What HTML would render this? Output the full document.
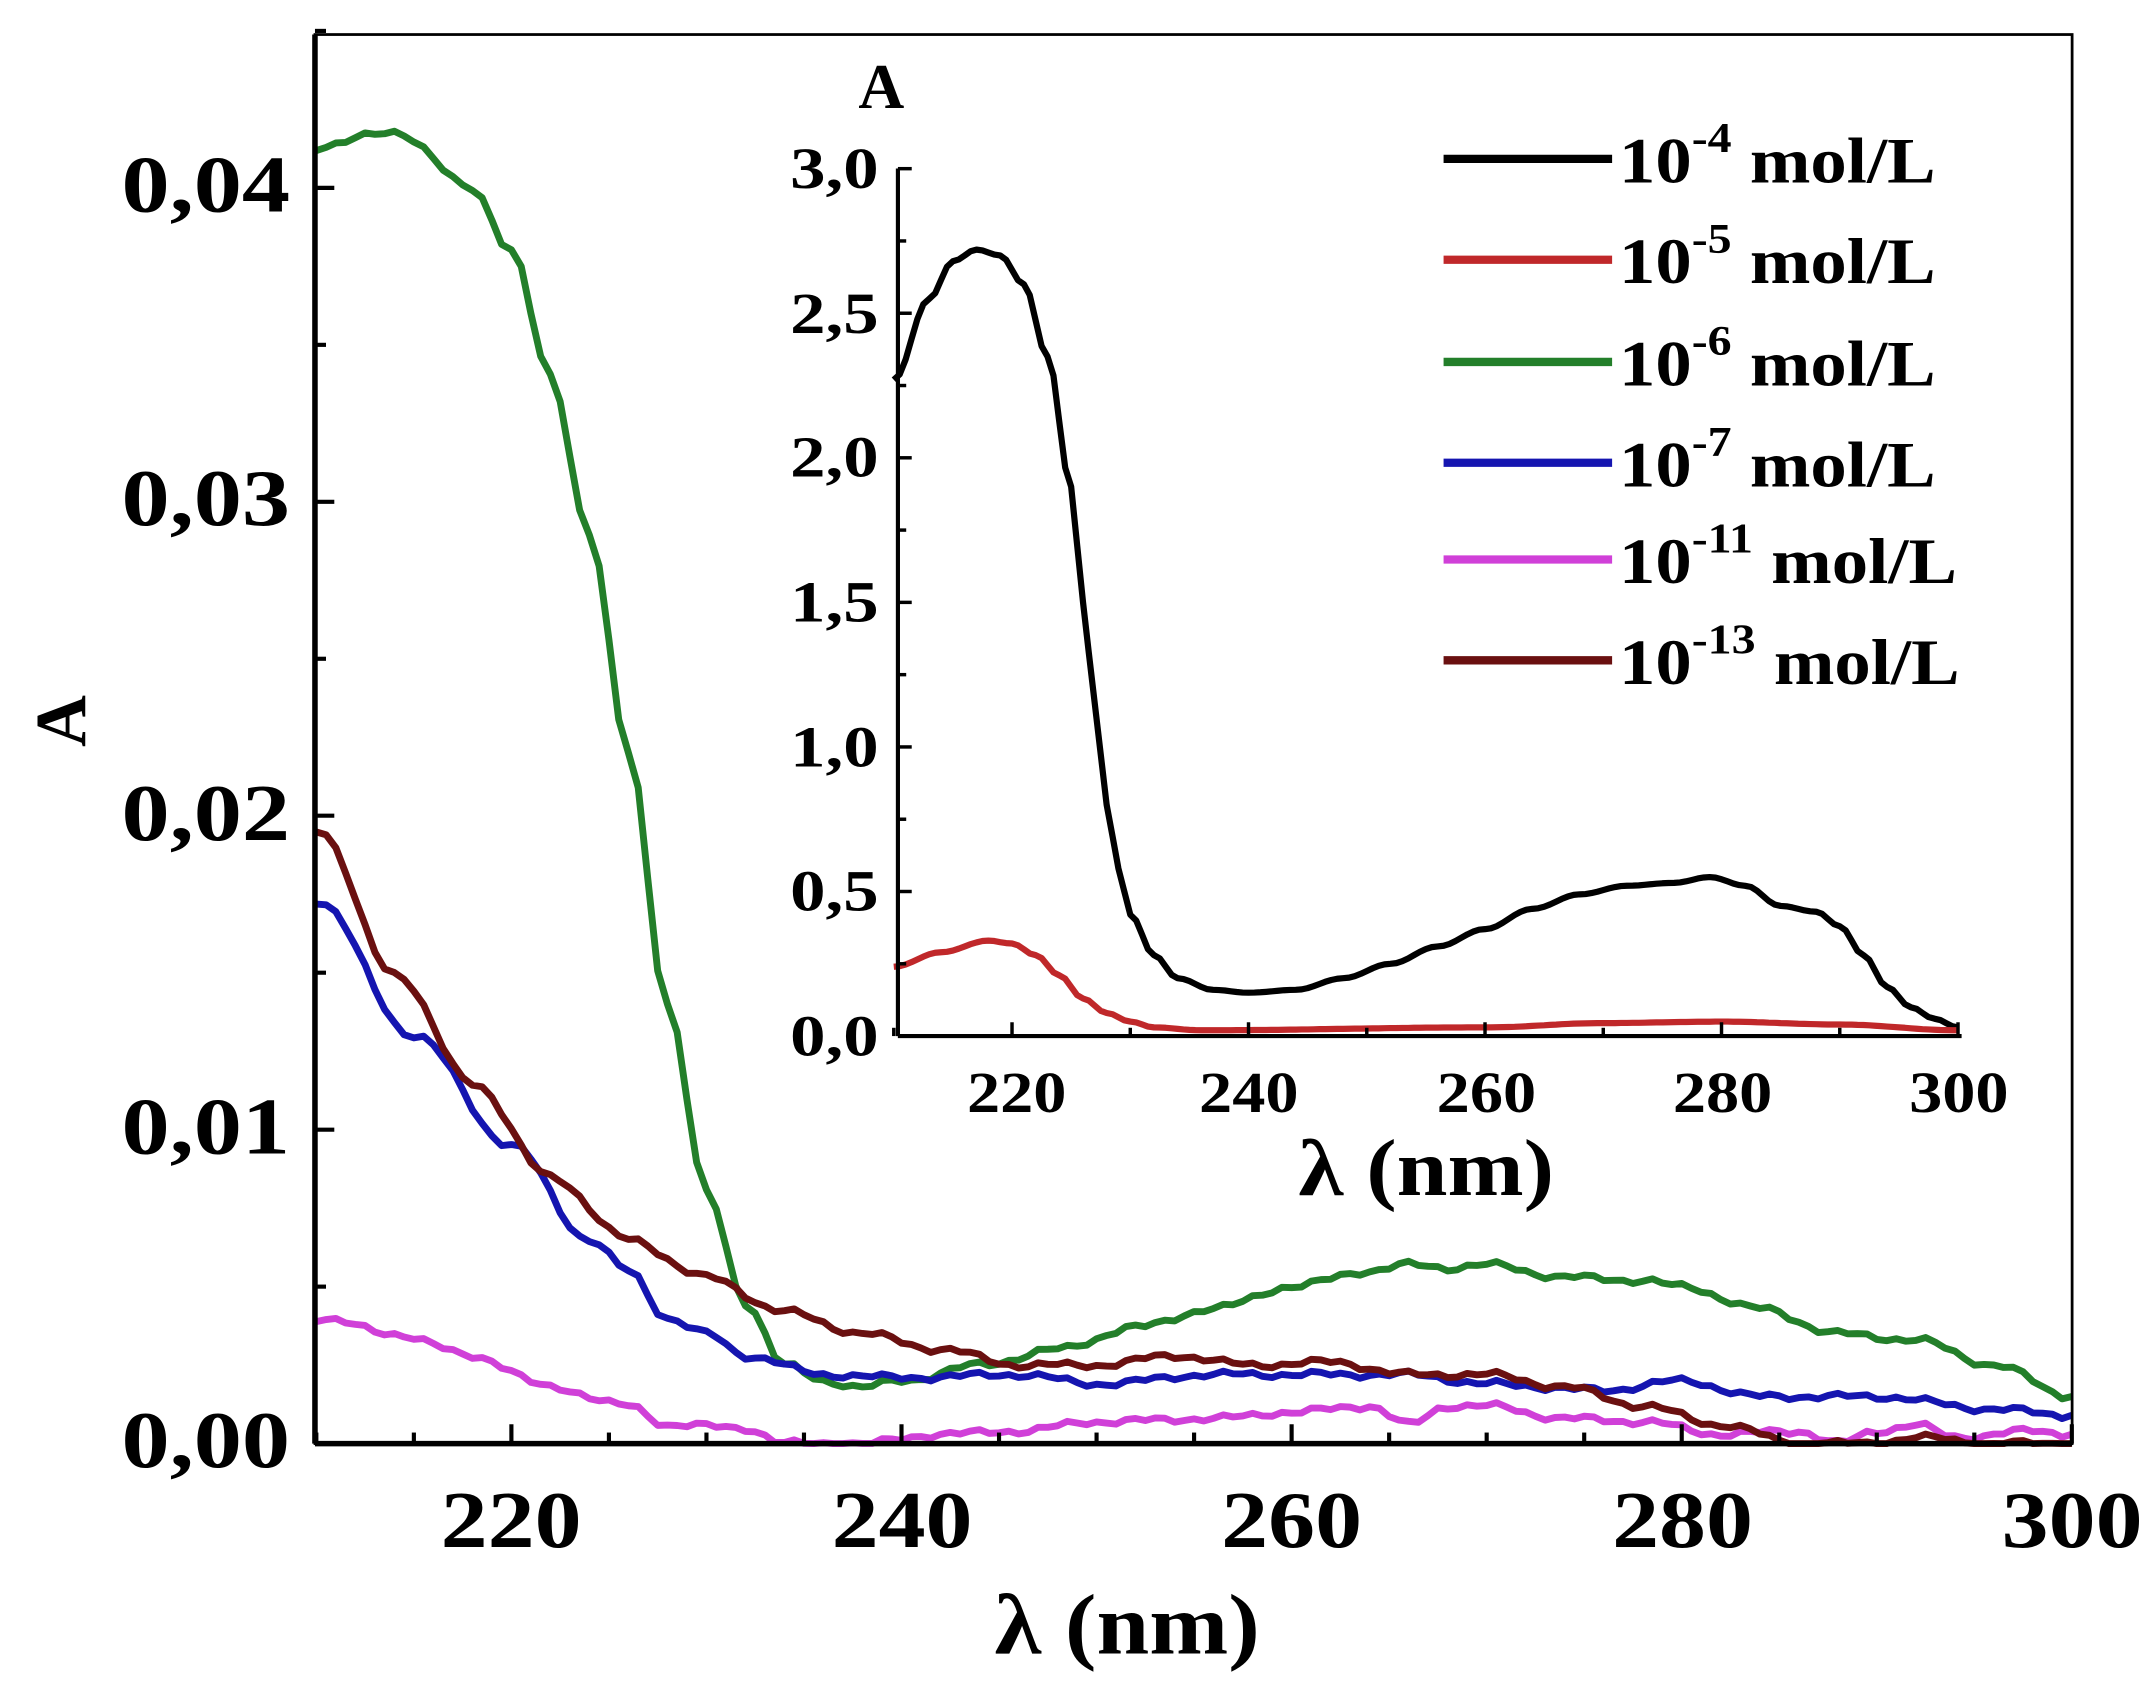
<!DOCTYPE html>
<html><head><meta charset="utf-8">
<style>
html,body{margin:0;padding:0;background:#fff;}
svg{display:block;}
text{font-family:"Liberation Serif",serif;font-weight:bold;fill:#000;}
</style></head>
<body>
<svg id="s" width="2155" height="1683" viewBox="0 0 1560 1218.3" preserveAspectRatio="none" xmlns="http://www.w3.org/2000/svg">
<rect width="1560" height="1219" fill="#fff"/>
<g id="main"></g>
<rect x="228" y="25" width="1272" height="1020" fill="none" stroke="#000" stroke-width="2"/>
<line x1="228" y1="25" x2="228" y2="1045" stroke="#000" stroke-width="4"/>
<line x1="228" y1="1045" x2="1500" y2="1045" stroke="#000" stroke-width="4"/>
<g id="ticks" stroke="#000" stroke-width="3"></g>
<g font-size="58" lengthAdjust="spacingAndGlyphs">
<text x="88" y="1062" textLength="122" lengthAdjust="spacingAndGlyphs">0,00</text>
<text x="88" y="835" textLength="122" lengthAdjust="spacingAndGlyphs">0,01</text>
<text x="88" y="608" textLength="122" lengthAdjust="spacingAndGlyphs">0,02</text>
<text x="88" y="380" textLength="122" lengthAdjust="spacingAndGlyphs">0,03</text>
<text x="88" y="153" textLength="122" lengthAdjust="spacingAndGlyphs">0,04</text>
</g>
<g font-size="58">
<text x="319" y="1120" textLength="102" lengthAdjust="spacingAndGlyphs">220</text>
<text x="602" y="1120" textLength="102" lengthAdjust="spacingAndGlyphs">240</text>
<text x="884" y="1120" textLength="102" lengthAdjust="spacingAndGlyphs">260</text>
<text x="1167" y="1120" textLength="102" lengthAdjust="spacingAndGlyphs">280</text>
<text x="1449" y="1120" textLength="102" lengthAdjust="spacingAndGlyphs">300</text>
</g>
<text x="720" y="1197" font-size="62" textLength="192" lengthAdjust="spacingAndGlyphs">λ (nm)</text>
<text transform="translate(62,522) rotate(-90)" font-size="52" text-anchor="middle">A</text>

<g id="inset"></g>
<line x1="650" y1="122" x2="650" y2="750" stroke="#000" stroke-width="3"/>
<line x1="650" y1="750" x2="1420" y2="750" stroke="#000" stroke-width="3"/>
<g id="iticks" stroke="#000" stroke-width="2.5"></g>
<g font-size="42">
<text x="572" y="764" textLength="64" lengthAdjust="spacingAndGlyphs">0,0</text>
<text x="572" y="659" textLength="64" lengthAdjust="spacingAndGlyphs">0,5</text>
<text x="572" y="555" textLength="64" lengthAdjust="spacingAndGlyphs">1,0</text>
<text x="572" y="450" textLength="64" lengthAdjust="spacingAndGlyphs">1,5</text>
<text x="572" y="345" textLength="64" lengthAdjust="spacingAndGlyphs">2,0</text>
<text x="572" y="241" textLength="64" lengthAdjust="spacingAndGlyphs">2,5</text>
<text x="572" y="136" textLength="64" lengthAdjust="spacingAndGlyphs">3,0</text>
</g>
<g font-size="42">
<text x="700" y="805" textLength="72" lengthAdjust="spacingAndGlyphs">220</text>
<text x="868" y="805" textLength="72" lengthAdjust="spacingAndGlyphs">240</text>
<text x="1040" y="805" textLength="72" lengthAdjust="spacingAndGlyphs">260</text>
<text x="1211" y="805" textLength="72" lengthAdjust="spacingAndGlyphs">280</text>
<text x="1382" y="805" textLength="72" lengthAdjust="spacingAndGlyphs">300</text>
</g>
<text x="940" y="865" font-size="58" textLength="185" lengthAdjust="spacingAndGlyphs">λ (nm)</text>
<text x="638" y="78" font-size="46" text-anchor="middle">A</text>

<g stroke-width="6" stroke-linecap="butt">
<line x1="1045" y1="115" x2="1167" y2="115" stroke="#000"/>
<line x1="1045" y1="188" x2="1167" y2="188" stroke="#c0282a"/>
<line x1="1045" y1="262" x2="1167" y2="262" stroke="#237f2a"/>
<line x1="1045" y1="335" x2="1167" y2="335" stroke="#1515b0"/>
<line x1="1045" y1="405" x2="1167" y2="405" stroke="#d040d8"/>
<line x1="1045" y1="478" x2="1167" y2="478" stroke="#6a1010"/>
</g>
<g font-size="47">
<text transform="translate(1172,132) scale(1.12,1)">10<tspan font-size="31" dy="-22">-4</tspan><tspan dy="22"> mol/L</tspan></text>
<text transform="translate(1172,205) scale(1.12,1)">10<tspan font-size="31" dy="-22">-5</tspan><tspan dy="22"> mol/L</tspan></text>
<text transform="translate(1172,279) scale(1.12,1)">10<tspan font-size="31" dy="-22">-6</tspan><tspan dy="22"> mol/L</tspan></text>
<text transform="translate(1172,352) scale(1.12,1)">10<tspan font-size="31" dy="-22">-7</tspan><tspan dy="22"> mol/L</tspan></text>
<text transform="translate(1172,422) scale(1.12,1)">10<tspan font-size="31" dy="-22">-11</tspan><tspan dy="22"> mol/L</tspan></text>
<text transform="translate(1172,495) scale(1.12,1)">10<tspan font-size="31" dy="-22">-13</tspan><tspan dy="22"> mol/L</tspan></text>
</g>
</svg>
<script>
(function(){
var NS="http://www.w3.org/2000/svg";
function X(l){return 229+(l-210)*14.12;}
function Y(a){return 1045-a*22725;}
function Xi(l){return 647+(l-210)*8.56;}
function Yi(a){return 750-a*209.3;}
function interp(d,step,jit){var out=[];for(var i=0;i<d.length-1;i++){var a=d[i],b=d[i+1];for(var l=a[0];l<b[0];l+=step){var t=(l-a[0])/(b[0]-a[0]);var s=(1-Math.cos(Math.PI*t))/2;var v=a[1]+(b[1]-a[1])*s;if(jit)v+=jit*Math.sin(l*2.7)*Math.cos(l*1.3);out.push([l,v]);}}out.push(d[d.length-1]);return out;}
function path(g,d,fx,fy,col,w,jit){var p=interp(d,0.5,jit);var s="";p.forEach(function(q,i){s+=(i?"L":"M")+fx(q[0]).toFixed(1)+","+Math.min(fy(q[1]),1045).toFixed(1);});var e=document.createElementNS(NS,"path");e.setAttribute("d",s);e.setAttribute("fill","none");e.setAttribute("stroke",col);e.setAttribute("stroke-width",w);e.setAttribute("stroke-linejoin","round");g.appendChild(e);}
var gm=document.getElementById("main");
var mag=[[210,.004],[214,.0035],[218,.0028],[222,.0018],[226,.0012],[228,.0006],[232,.0005],[234,0],[238,0],[242,.0003],[246,.0004],[250,.0007],[256,.0008],[260,.001],[264,.0012],[266,.0006],[268,.0012],[270,.0012],[274,.0008],[278,.0007],[282,.0003],[286,.0004],[288,0],[290,.0004],[292,.0006],[294,.0002],[298,.0004],[300,.0003]];
var green=[[210,.0413],[214,.0418],[218,.040],[220,.038],[222,.034],[224,.029],[226,.022],[228,.014],[230,.008],[232,.0045],[234,.0025],[236,.002],[238,.0018],[240,.002],[244,.0025],[248,.003],[252,.0037],[256,.0043],[260,.005],[264,.0055],[266,.0057],[268,.0056],[270,.0057],[274,.0053],[278,.0052],[280,.005],[284,.0043],[288,.0035],[292,.0033],[296,.0025],[300,.0015]];
var blue=[[210,.0173],[215,.013],[220,.0095],[224,.0065],[226,.0055],[228,.004],[230,.0035],[232,.0028],[236,.0022],[240,.0021],[246,.0022],[250,.0019],[256,.0022],[260,.0022],[266,.0022],[270,.0019],[276,.0017],[280,.002],[284,.0015],[290,.0015],[296,.0011],[300,.0009]];
var brown=[[210,.0196],[214,.015],[218,.0115],[222,.0085],[226,.0065],[230,.0053],[234,.0042],[238,.0035],[242,.003],[246,.0025],[250,.0025],[254,.0028],[258,.0025],[262,.0026],[266,.0022],[270,.0022],[274,.0018],[278,.0012],[282,.0006],[286,0],[290,0],[292,.0002],[296,0],[300,0]];
path(gm,mag,X,Y,"#d040d8",5,0.00012);
path(gm,green,X,Y,"#237f2a",5,0.00012);
path(gm,blue,X,Y,"#1515b0",5,0.00012);
path(gm,brown,X,Y,"#6a1010",5,0.00012);
var gi=document.getElementById("inset");
var black=[[210,2.27],[213,2.55],[215,2.68],[217,2.72],[219,2.7],[221,2.6],[223,2.35],[225,1.9],[226,1.5],[227,1.15],[228,.8],[229,.58],[230,.42],[232,.28],[234,.2],[237,.16],[240,.15],[244,.16],[248,.2],[252,.25],[256,.31],[260,.37],[264,.44],[268,.49],[272,.52],[276,.53],[279,.55],[282,.52],[285,.45],[288,.43],[290,.38],[292,.28],[294,.17],[296,.1],[298,.06],[300,.03]];
var red=[[210,.24],[214,.29],[218,.33],[220,.32],[222,.28],[224,.21],[226,.13],[228,.08],[230,.05],[232,.03],[236,.02],[260,.03],[270,.045],[280,.05],[290,.04],[300,.02]];
path(gi,black,Xi,Yi,"#000",4.5,0);
path(gi,red,Xi,Yi,"#c0282a",4.5,0);
var t=document.getElementById("ticks"),s="";
for(var l=210;l<=300;l+=5){var x=X(l);var len=(l%20==0)?14:8;s+='<line x1="'+x+'" y1="1045" x2="'+x+'" y2="'+(1045-len)+'"/>';}
for(var a=0;a<=0.0451;a+=0.005){var y=Y(a);var len=(Math.round(a*1000)%10==0)?14:8;s+='<line x1="228" y1="'+y+'" x2="'+(228+len)+'" y2="'+y+'"/>';}
t.innerHTML=s;
var ti=document.getElementById("iticks");s="";
for(var l=210;l<=300;l+=10){var x=Xi(l);var len=(l%20==0)?10:6;s+='<line x1="'+x+'" y1="750" x2="'+x+'" y2="'+(750-len)+'"/>';}
for(var k=0;k<=12;k++){var y=Yi(k*0.25);var len=(k%2==0)?10:6;s+='<line x1="650" y1="'+y+'" x2="'+(650+len)+'" y2="'+y+'"/>';}
ti.innerHTML=s;
})();
</script>
</body></html>
